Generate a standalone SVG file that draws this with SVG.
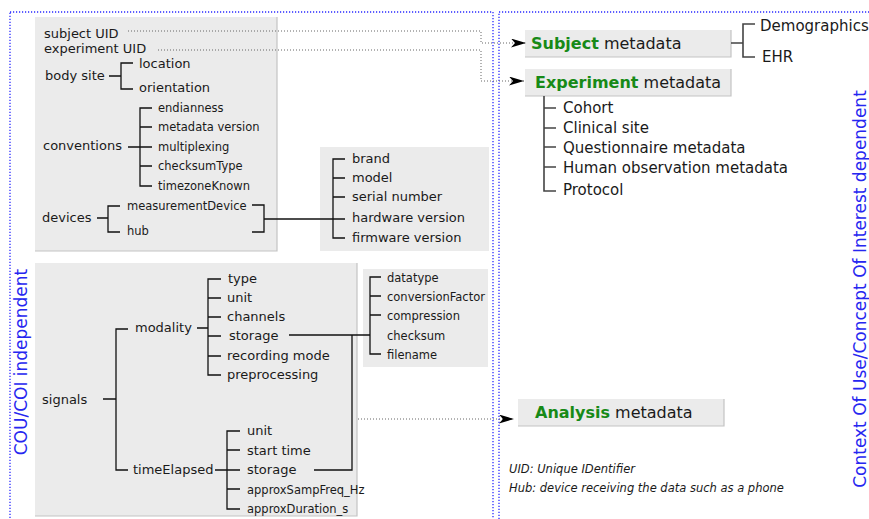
<svg xmlns="http://www.w3.org/2000/svg" width="869" height="519" viewBox="0 0 869 519">
<style>
text{font-family:"DejaVu Sans","Liberation Sans",sans-serif;fill:#1a1a1a}
.m{font-size:13px}
.s{font-size:11.5px}
.r{font-size:15px}
.h{font-size:16px}
.b{font-weight:bold;fill:#178a17}
.it{font-size:11.5px;font-style:italic}
.v{font-size:17px;fill:#2626f0}
.box{fill:#ebebeb}
.sh{fill:none;stroke:#c4c4c4;stroke-width:1.2}
.tree{fill:none;stroke:#111;stroke-width:1.3}
.tree2{fill:none;stroke:#444;stroke-width:1.6}
.frame{fill:none;stroke:#2a2aff;stroke-width:1.3;stroke-dasharray:1.2 1.8}
.dot{fill:none;stroke:#666;stroke-width:1;stroke-dasharray:1 2}
</style>
<defs>
<marker id="ah" markerUnits="userSpaceOnUse" markerWidth="16" markerHeight="10" refX="15" refY="4.5" orient="auto">
<path d="M0,0 L15,4.5 L0,9 L4,4.5 Z" fill="#000"/>
</marker>
</defs>

<g id="frames">
<rect class="frame" x="10" y="12" width="483" height="520"/>
<rect class="frame" x="499" y="12" width="380" height="520"/>
<text class="v" transform="translate(27,362) rotate(-90)" text-anchor="middle">COU/COI independent</text>
<text class="v" transform="translate(866,289) rotate(-90)" text-anchor="middle">Context Of Use/Concept Of Interest dependent</text>
</g>

<g id="general">
<rect class="box" x="35" y="17" width="242" height="234"/>
<path class="sh" d="M277,17 V251 H35"/>
<text class="m" x="44" y="38">subject UID</text>
<text class="m" x="44" y="53">experiment UID</text>
<text class="m" x="45" y="80">body site</text>
<text class="m" x="139" y="68">location</text>
<text class="m" x="139" y="92">orientation</text>
<path class="tree" d="M109,76 H121 M133,63 H121 V89 H133"/>
<text class="m" x="43" y="150">conventions</text>
<path class="tree" d="M128,147 H140 M152,108 H140 V186 H152 M140,127 H152 M140,147 H152 M140,166 H152"/>
<text class="s" x="158" y="112">endianness</text>
<text class="s" x="158" y="131">metadata version</text>
<text class="s" x="158" y="151">multiplexing</text>
<text class="s" x="158" y="170">checksumType</text>
<text class="s" x="158" y="190">timezoneKnown</text>
<text class="m" x="42" y="222">devices</text>
<path class="tree" d="M97,218 H108 M120,206 H108 V232 H120 M252,205 H264 V232 H252"/>
<text class="s" x="127" y="210">measurementDevice</text>
<text class="s" x="127" y="235">hub</text>
</g>

<g id="device-details">
<rect class="box" x="320" y="147" width="169" height="104"/>
<path class="tree" d="M345,159 H333 V238 H345 M333,178 H345 M333,197 H345"/>
<text class="m" x="352" y="163">brand</text>
<text class="m" x="352" y="182">model</text>
<text class="m" x="352" y="201">serial number</text>
<text class="m" x="352" y="222">hardware version</text>
<text class="m" x="352" y="242">firmware version</text>
</g>

<g id="signals">
<rect class="box" x="35" y="263" width="322" height="253"/>
<path class="sh" d="M357,263 V516 H35"/>
<text class="m" x="42" y="404">signals</text>
<path class="tree" d="M103,399 H116 M128,329 H116 V470 H128"/>
<text class="m" x="135" y="332">modality</text>
<path class="tree" d="M197,328 H208 M221,279 H208 V375 H221 M208,298 H221 M208,317 H221 M208,336 H221 M208,356 H221"/>
<text class="m" x="228" y="283">type</text>
<text class="m" x="227" y="302">unit</text>
<text class="m" x="227" y="321">channels</text>
<text class="m" x="229" y="340">storage</text>
<text class="m" x="227" y="360">recording mode</text>
<text class="m" x="227" y="379">preprocessing</text>
<text class="m" x="133" y="474">timeElapsed</text>
<path class="tree" d="M215,470 H240 M240,431 H227 V509 H240 M227,450 H240 M227,489 H240"/>
<text class="m" x="247" y="435">unit</text>
<text class="m" x="247" y="455">start time</text>
<text class="m" x="247" y="474">storage</text>
<text class="s" x="247" y="494">approxSampFreq_Hz</text>
<text class="s" x="247" y="513">approxDuration_s</text>
</g>

<g id="storage">
<rect class="box" x="363" y="269" width="125" height="98"/>
<path class="tree" d="M381,277 H370 V354 H381 M370,296 H381 M370,315 H381"/>
<text class="s" x="387" y="282">datatype</text>
<text class="s" x="387" y="301">conversionFactor</text>
<text class="s" x="387" y="320">compression</text>
<text class="s" x="387" y="340">checksum</text>
<text class="s" x="387" y="359">filename</text>
</g>

<g id="subject">
<rect class="box" x="525" y="30" width="206" height="27"/>
<path class="sh" d="M731,30 V57 H525"/>
<text class="h" x="531" y="49"><tspan class="b">Subject</tspan> metadata</text>
<path class="tree2" d="M731,43 H743 M755,24 H743 V57 H755"/>
<text class="r" x="760" y="31">Demographics</text>
<text class="r" x="762" y="62">EHR</text>
</g>

<g id="experiment">
<rect class="box" x="525" y="69" width="206" height="27"/>
<path class="sh" d="M731,69 V96 H525"/>
<text class="h" x="535" y="88"><tspan class="b">Experiment</tspan> metadata</text>
<path class="tree2" d="M544,96 V191 H556 M544,108 H556 M544,128 H556 M544,147 H556 M544,167 H556"/>
<text class="r" x="563" y="113">Cohort</text>
<text class="r" x="563" y="133">Clinical site</text>
<text class="r" x="563" y="153">Questionnaire metadata</text>
<text class="r" x="563" y="173">Human observation metadata</text>
<text class="r" x="563" y="195">Protocol</text>
</g>

<g id="analysis">
<rect class="box" x="518" y="399" width="206" height="27"/>
<path class="sh" d="M724,399 V426 H518"/>
<text class="h" x="535" y="418"><tspan class="b">Analysis</tspan> metadata</text>
</g>

<g id="notes">
<text class="it" x="509" y="473">UID: Unique IDentifier</text>
<text class="it" x="509" y="492">Hub: device receiving the data such as a phone</text>
</g>

<g id="connectors">
<path class="tree" d="M264,219 H345"/>
<path class="tree" d="M289,335 H370"/>
<path class="tree" d="M314,470 H352 V335"/>
<path class="dot" d="M128,31 H481 V43 H526" marker-end="url(#ah)"/>
<path class="dot" d="M158,50 H481 V81 H524" marker-end="url(#ah)"/>
<path class="dot" d="M358,419 H514" marker-end="url(#ah)"/>
</g>
</svg>
